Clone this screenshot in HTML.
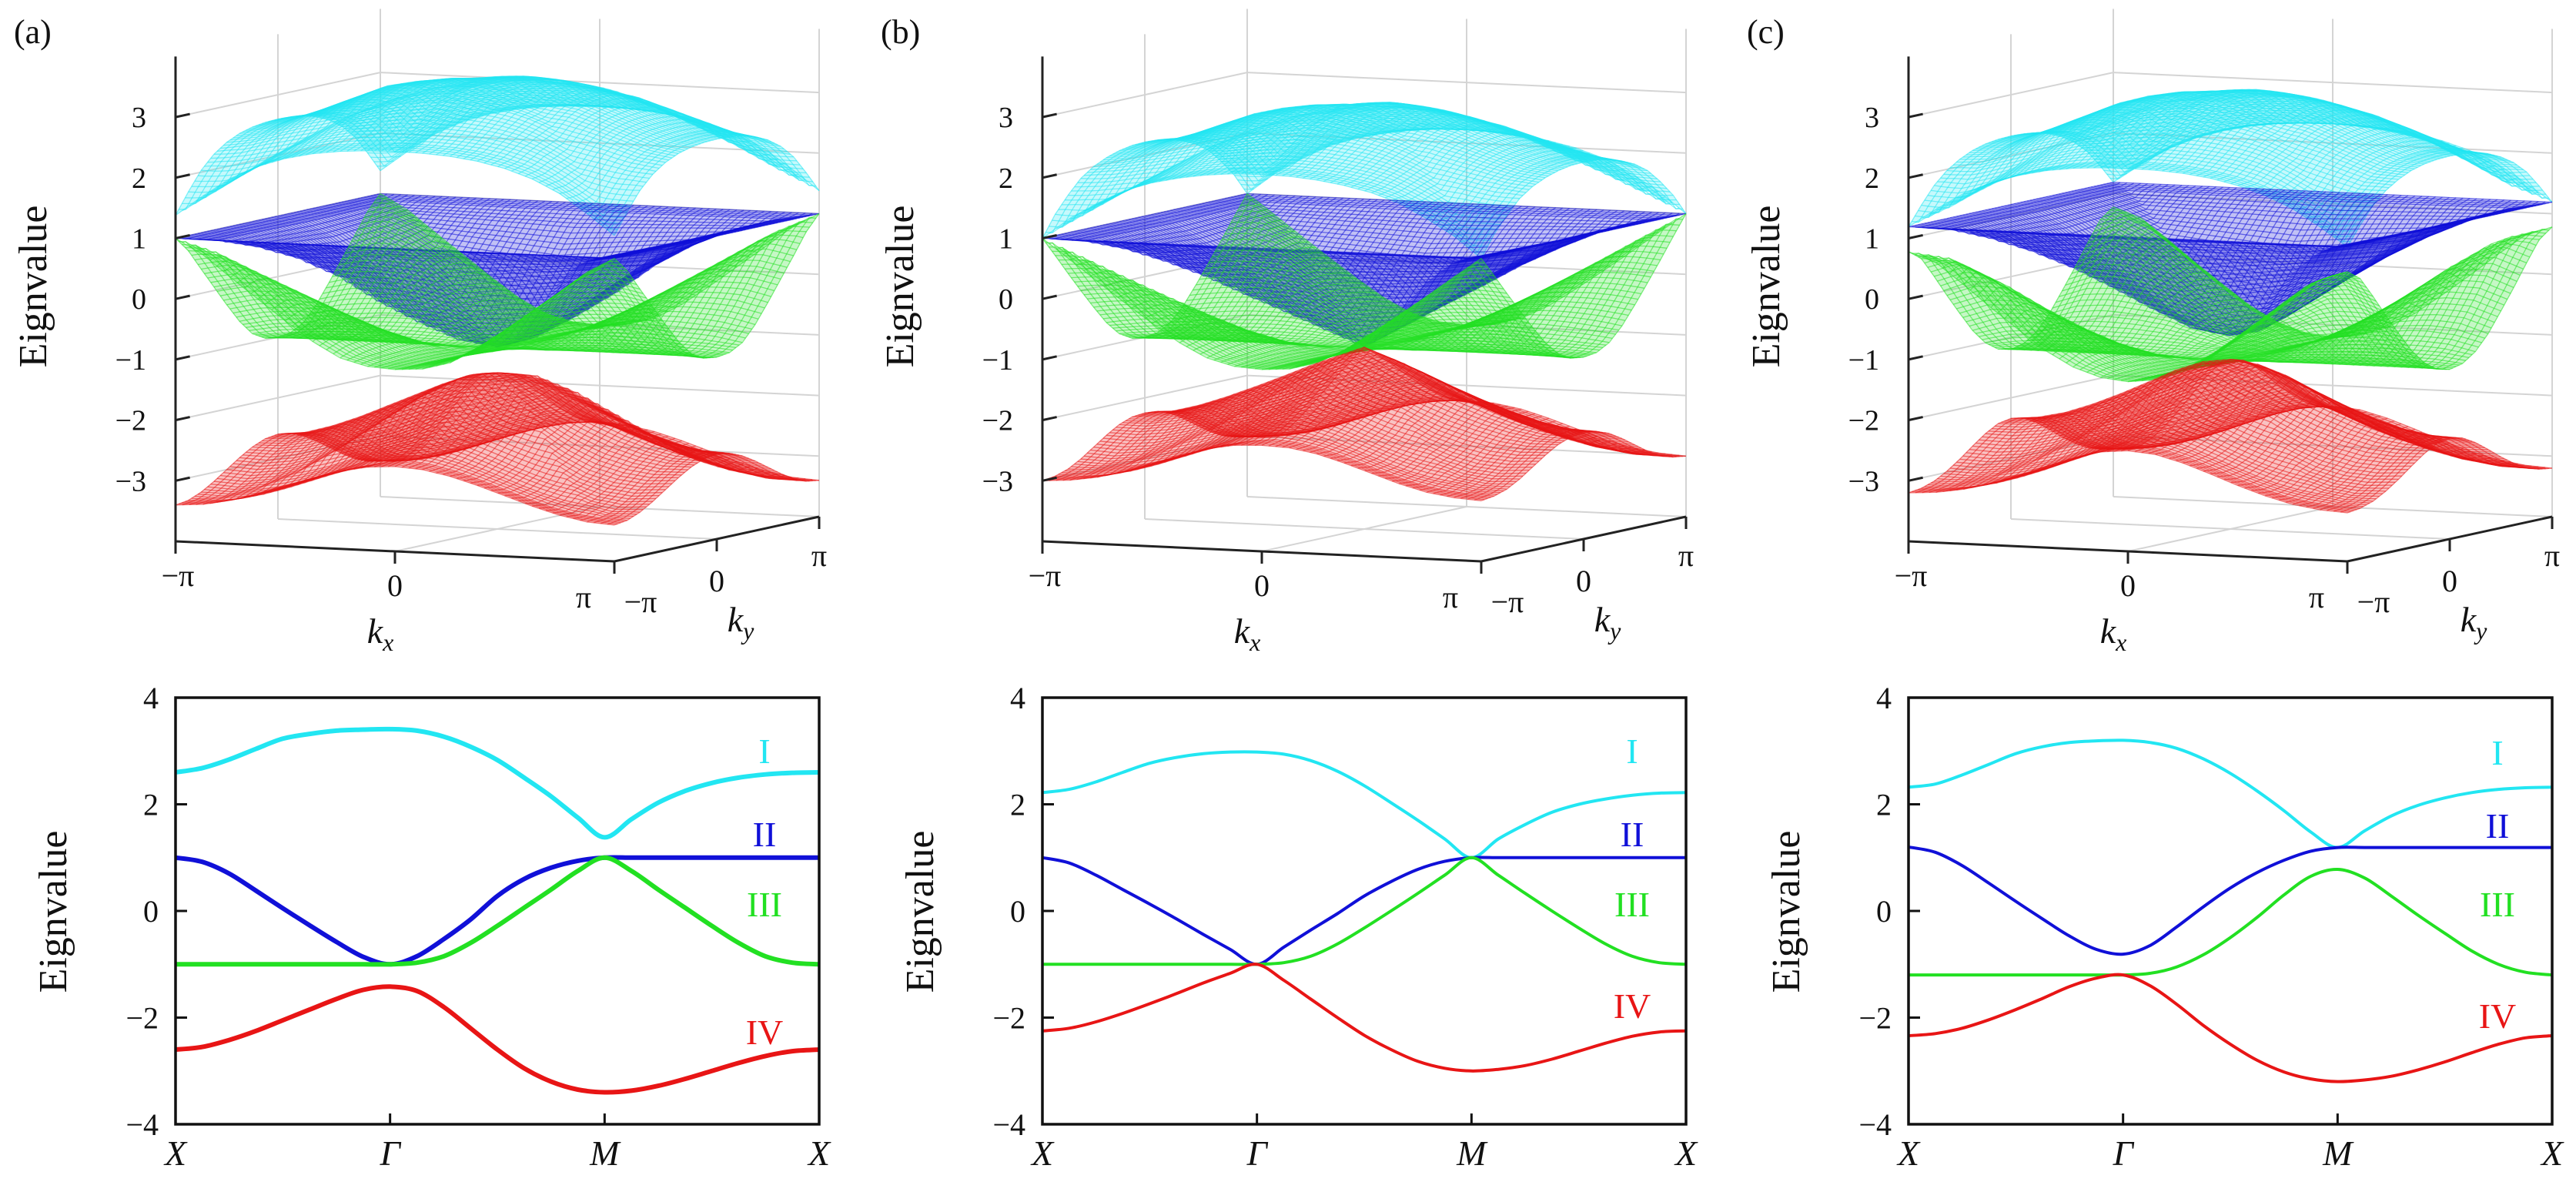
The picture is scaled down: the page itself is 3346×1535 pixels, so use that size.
<!DOCTYPE html>
<html><head><meta charset="utf-8">
<style>
html,body{margin:0;padding:0;background:#fff;}
svg{display:block;font-family:"Liberation Serif",serif;}
text{font-family:"Liberation Serif",serif;fill:#111;}
</style></head>
<body>
<svg id="fig" width="3346" height="1535" viewBox="0 0 3346 1535" xmlns="http://www.w3.org/2000/svg"></svg>
<script>
// ---------- data ----------
const pathLabels = ['X','Γ','M','X'];
const yTicks = [-4,-2,0,2,4];
const zTicks = [-3,-2,-1,0,1,2,3];
const kTickLabels = ['−π','0','π'];
const bandNames = ['I','II','III','IV'];
const panelNames = ['(a)','(b)','(c)'];

const a_I  = [2.6,2.68,2.84,3.04,3.23,3.32,3.38,3.40,3.41, 3.38,3.27,3.08,2.83,2.5,2.15,1.75,1.38, 1.72,2.03,2.25,2.4,2.5,2.56,2.59,2.6];
const a_II = [1.0,0.92,0.7,0.38,0.05,-0.27,-0.58,-0.86,-1.0, -0.85,-0.53,-0.16,0.28,0.6,0.81,0.94,1.0, 1,1,1,1,1,1,1,1];
const a_III= [-1,-1,-1,-1,-1,-1,-1,-1,-1, -0.97,-0.85,-0.6,-0.28,0.06,0.4,0.75,1.0, 0.75,0.4,0.06,-0.28,-0.6,-0.85,-0.97,-1.0];
const a_IV = [-2.6,-2.55,-2.42,-2.25,-2.05,-1.85,-1.65,-1.48,-1.42, -1.5,-1.8,-2.2,-2.6,-2.95,-3.2,-3.35,-3.4, -3.37,-3.28,-3.15,-3.0,-2.85,-2.72,-2.63,-2.6];

const b_I  = [2.22,2.28,2.42,2.6,2.77,2.88,2.95,2.98,2.98, 2.94,2.82,2.62,2.35,2.03,1.7,1.35,1.0, 1.35,1.62,1.85,2.0,2.1,2.17,2.21,2.22];
const b_II = [1.0,0.9,0.67,0.4,0.13,-0.15,-0.44,-0.72,-1.0, -0.68,-0.36,-0.05,0.28,0.55,0.78,0.93,1.0, 1,1,1,1,1,1,1,1];
const b_III= [-1,-1,-1,-1,-1,-1,-1,-1,-1, -0.97,-0.85,-0.62,-0.32,0.0,0.33,0.67,1.0, 0.67,0.33,0.0,-0.32,-0.62,-0.85,-0.97,-1.0];
const b_IV = [-2.25,-2.2,-2.08,-1.92,-1.74,-1.55,-1.35,-1.17,-1.0, -1.3,-1.65,-2.0,-2.33,-2.6,-2.82,-2.95,-3.0, -2.97,-2.9,-2.78,-2.63,-2.48,-2.35,-2.27,-2.25];

const c_I  = [2.32,2.38,2.55,2.75,2.95,3.08,3.16,3.19,3.2, 3.16,3.05,2.85,2.58,2.25,1.88,1.48,1.19, 1.5,1.78,1.98,2.12,2.22,2.28,2.31,2.32];
const c_II = [1.2,1.1,0.85,0.52,0.18,-0.15,-0.47,-0.72,-0.81, -0.65,-0.3,0.08,0.43,0.72,0.95,1.12,1.19, 1.19,1.19,1.19,1.19,1.19,1.19,1.19,1.19];
const c_III= [-1.2,-1.2,-1.2,-1.2,-1.2,-1.2,-1.2,-1.2,-1.2, -1.17,-1.05,-0.82,-0.5,-0.12,0.3,0.65,0.78, 0.62,0.28,-0.08,-0.42,-0.75,-1.0,-1.15,-1.2];
const c_IV = [-2.34,-2.3,-2.2,-2.04,-1.85,-1.64,-1.42,-1.26,-1.2, -1.4,-1.75,-2.15,-2.5,-2.8,-3.02,-3.15,-3.2, -3.17,-3.1,-2.98,-2.83,-2.66,-2.5,-2.38,-2.34];

// ---------- layout ----------
const NS='http://www.w3.org/2000/svg';
const svg=document.getElementById('fig');
const panels=[
  {ox:0,   bands:[a_I,a_II,a_III,a_IV], lw:6, labelY:[975,1083,1174,1340], labelX:993},
  {ox:1126,bands:[b_I,b_II,b_III,b_IV], lw:4, labelY:[975,1083,1174,1306], labelX:994},
  {ox:2251,bands:[c_I,c_II,c_III,c_IV], lw:4, labelY:[977,1072,1174,1319], labelX:993}
];
const colors=['#22e6f2','#1010d8','#22e022','#e81515'];
function mk(tag,attrs,parent){const e=document.createElementNS(NS,tag);for(const k in attrs)e.setAttribute(k,attrs[k]);(parent||svg).appendChild(e);return e;}

// 2D axis functions
const L=228,R=1064,T=906,B=1460;
function xPos(ox,i){return ox+L+(R-L)*i/24;}
function yPos(v){return T+(4-v)/8*(B-T);}
// 3D projection
function proj(ox,u,v,z){return [ox+228+570*u+266*v, 703+26*u-58*v-(z+4)*78.7];}
function look(arr,p){p=Math.max(0,Math.min(24,p));const i=Math.min(23,Math.floor(p));const f=p-i;return arr[i]*(1-f)+arr[i+1]*f;}
function surfE(arr,kx,ky){
  const A=Math.max(Math.abs(kx),Math.abs(ky))/Math.PI,Bm=Math.min(Math.abs(kx),Math.abs(ky))/Math.PI;
  const s=A>1e-9?Bm/A:0;
  const Ex=a=>look(arr,8*(1-a)),Ed=a=>look(arr,8+8*a),E1=q=>look(arr,16+8*(1-q));
  return (1-s)*Ex(A)+s*Ed(A)+A*A*(E1(s)-((1-s)*Ex(1)+s*Ed(1)));
}
function smoothPath(pts){
  let d='M'+pts[0][0].toFixed(1)+','+pts[0][1].toFixed(1);
  for(let i=0;i<pts.length-1;i++){
    const p0=pts[Math.max(0,i-1)],p1=pts[i],p2=pts[i+1],p3=pts[Math.min(pts.length-1,i+2)];
    const c1=[p1[0]+(p2[0]-p0[0])/6,p1[1]+(p2[1]-p0[1])/6];
    const c2=[p2[0]-(p3[0]-p1[0])/6,p2[1]-(p3[1]-p1[1])/6];
    d+='C'+c1[0].toFixed(1)+','+c1[1].toFixed(1)+' '+c2[0].toFixed(1)+','+c2[1].toFixed(1)+' '+p2[0].toFixed(1)+','+p2[1].toFixed(1);
  }
  return d;
}

panels.forEach((P,pi)=>{
  const ox=P.ox;
  const g=mk('g',{});
  
  

  const pl=mk('text',{x:ox+18,y:56,'font-size':44},g);
  pl.textContent=panelNames[pi];
  
  

  // ===== 3D plot =====
  const g3=mk('g',{},g);
  
  
  const grid=mk('g',{stroke:'#d4d4d4','stroke-width':2,fill:'none'},g3);
  
  
  function line3(a,b,parent,attrs){const p=proj(ox,...a),q=proj(ox,...b);return mk('line',Object.assign({x1:p[0],y1:p[1],x2:q[0],y2:q[1]},attrs||{}),parent);}
  zTicks.forEach(z=>{line3([0,0,z],[0,1,z],grid);line3([0,1,z],[1,1,z],grid);});
  line3([0,0.5,-4],[0,0.5,4],grid);line3([0,1,-4],[0,1,4.05],grid);
  line3([0.5,1,-4],[0.5,1,4.05],grid);line3([1,1,-4],[1,1,4.05],grid);
  line3([0,1,-4],[1,1,-4],grid);line3([0.5,0,-4],[0.5,1,-4],grid);
  line3([0,0.5,-4],[1,0.5,-4],grid);

  // surfaces
  const N=64,NF=28;
  P.bands.forEach((arr,bi)=>{
    const sg=mk('g',{},g3);
    
    
    const col=colors[bi];
    const fillG=mk('g',{fill:col,'fill-opacity':0.26,stroke:'none'},sg);
    for(let i=0;i<NF;i++)for(let j=0;j<NF;j++){
      const pts=[[i,j],[i+1,j],[i+1,j+1],[i,j+1]].map(([a,b])=>{const u=a/NF,v=b/NF;return proj(ox,u,v,surfE(arr,(2*u-1)*Math.PI,(2*v-1)*Math.PI));});
      const q=mk('polygon',{points:pts.map(p=>p[0].toFixed(1)+','+p[1].toFixed(1)).join(' ')},fillG);
      
      
    }
    const lineG=mk('g',{stroke:col,'stroke-opacity':0.55,'stroke-width':1.3,fill:'none'},sg);
    for(let dir=0;dir<2;dir++)for(let i=0;i<=N;i++){
      const pts=[];
      for(let j=0;j<=N;j++){const u=dir?i/N:j/N,v=dir?j/N:i/N;pts.push(proj(ox,u,v,surfE(arr,(2*u-1)*Math.PI,(2*v-1)*Math.PI)));}
      const pl2=mk('polyline',{points:pts.map(p=>p[0].toFixed(1)+','+p[1].toFixed(1)).join(' ')},lineG);
      
      
    }
  });

  // 3D axes
  const ax=mk('g',{stroke:'#222','stroke-width':3,fill:'none'},g3);
  
  
  line3([0,0,-4],[0,0,4],ax);
  line3([0,0,-4],[1,0,-4],ax);
  line3([1,0,-4],[1,1,-4],ax);
  zTicks.forEach(z=>{
    line3([0,0,z],[0,0.07,z],ax);
    const p=proj(ox,0,0,z);
    const t=mk('text',{x:p[0]-38,y:p[1]+13,'font-size':38,'text-anchor':'end'},g3);
    t.textContent=(z<0?'−':'')+Math.abs(z);
    
    
  });
  [0,0.5,1].forEach((u,k)=>{
    const p=proj(ox,u,0,-4);
    mk('line',{x1:p[0],y1:p[1],x2:p[0],y2:p[1]+16},ax);
    const dx=[3,0,-40][k],dy=[58,58,60][k];
    const t=mk('text',{x:p[0]+dx,y:p[1]+dy,'font-size':40,'text-anchor':'middle'},g3);
    t.textContent=kTickLabels[k];
    
    
  });
  [0,0.5,1].forEach((v,k)=>{
    const p=proj(ox,1,v,-4);
    mk('line',{x1:p[0],y1:p[1],x2:p[0],y2:p[1]+16},ax);
    const dx=[34,0,0][k],dy=[66,68,64][k];
    const t=mk('text',{x:p[0]+dx,y:p[1]+dy,'font-size':40,'text-anchor':'middle'},g3);
    t.textContent=kTickLabels[k];
    
    
  });
  const kx=mk('text',{x:ox+494,y:835,'font-size':46,'font-style':'italic','text-anchor':'middle'},g3);
  kx.innerHTML='k<tspan font-size="32" dy="10">x</tspan>';
  
  
  const ky=mk('text',{x:ox+962,y:820,'font-size':46,'font-style':'italic','text-anchor':'middle'},g3);
  ky.innerHTML='k<tspan font-size="32" dy="10">y</tspan>';
  
  
  const zl=mk('text',{x:0,y:0,'font-size':52,'text-anchor':'middle',transform:`translate(${ox+60},372) rotate(-90)`},g3);
  zl.textContent='Eignvalue';
  
  

  // ===== 2D band plot =====
  const g2=mk('g',{},g);
  
  
  P.bands.forEach((arr,bi)=>{
    const pts=arr.map((v,i)=>[xPos(ox,i),yPos(v)]);
    const p=mk('path',{d:smoothPath(pts),stroke:colors[bi],'stroke-width':P.lw,fill:'none','stroke-linejoin':'round'},g2);
    
    
    const t=mk('text',{x:ox+P.labelX,y:P.labelY[bi]+16,'font-size':46,'text-anchor':'middle',style:'fill:'+colors[bi]},g2);
    t.textContent=bandNames[bi];
    
    
  });
  const frame=mk('rect',{x:ox+L,y:T,width:R-L,height:B-T,fill:'none',stroke:'#111','stroke-width':3.5},g2);
  
  
  yTicks.forEach(v=>{
    const y=yPos(v);
    const tk=mk('line',{x1:ox+L,y1:y,x2:ox+L+15,y2:y,stroke:'#111','stroke-width':3},g2);
    
    
    const t=mk('text',{x:ox+L-22,y:y+14,'font-size':40,'text-anchor':'end'},g2);
    t.textContent=(v<0?'−':'')+Math.abs(v);
    
    
  });
  pathLabels.forEach((lab,k)=>{
    const x=xPos(ox,k*8);
    if(k>0&&k<3){
      const tk=mk('line',{x1:x,y1:B,x2:x,y2:B-14,stroke:'#111','stroke-width':3},g2);
      
      
    }
    const t=mk('text',{x:x,y:1513,'font-size':46,'font-style':'italic','text-anchor':'middle'},g2);
    t.textContent=lab;
    
    
  });
  const yl=mk('text',{x:0,y:0,'font-size':52,'text-anchor':'middle',transform:`translate(${ox+86},1184) rotate(-90)`},g2);
  yl.textContent='Eignvalue';
  
  
});
</script>
</body></html>
